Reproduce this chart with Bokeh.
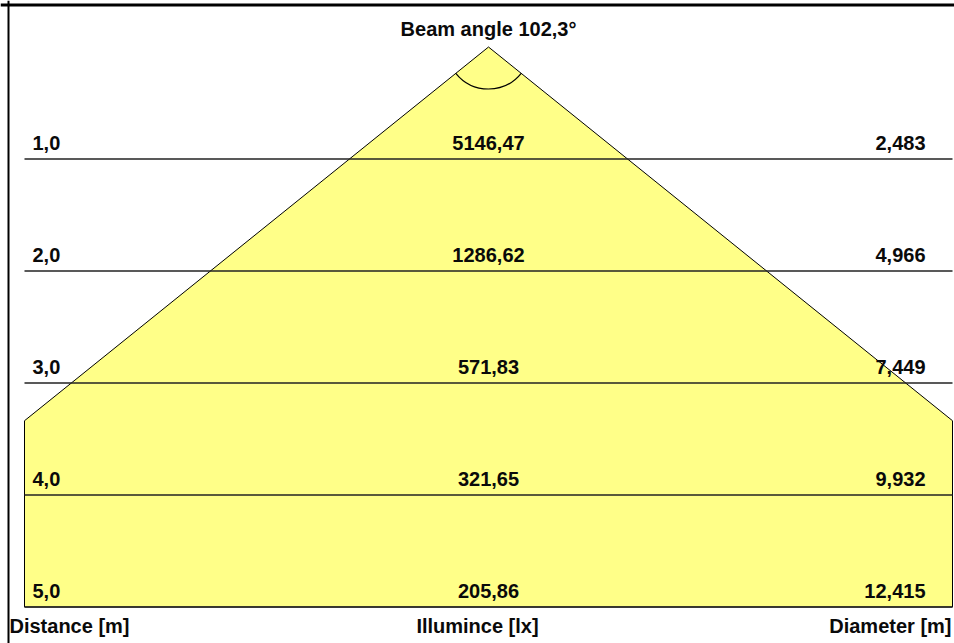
import math
from bokeh.plotting import figure
from bokeh.models import Range1d, Span, ColumnDataSource
from bokeh.core.properties import value
from bokeh.embed import file_html
from bokeh.resources import INLINE

# ---- data ----
distances = [1.0, 2.0, 3.0, 4.0, 5.0]                      # m
illuminance = [5146.47, 1286.62, 571.83, 321.65, 205.86]    # lx
diameters = [2.483, 4.966, 7.449, 9.932, 12.415]            # m
beam_angle = 102.3                                          # degrees
header_labels = ["Distance [m]", "Illumince [lx]", "Diameter [m]"]


def de(v, n):
    return f"{v:.{n}f}".replace(".", ",")


dist_labels = [de(v, 1) for v in distances]
illum_labels = [de(v, 2) for v in illuminance]
diam_labels = [de(v, 3) for v in diameters]
title_label = "Beam angle " + de(beam_angle, 1) + "°"

# ---- layout ----
W, H = 954, 643
PX = 112.0              # pixels per metre
APEX_X, APEX_Y = 488, 46.5
BOX_HALF = 464 / PX
FONT = value("Liberation Sans")
FS = "20px"

x_range = Range1d(-APEX_X / PX, (W - APEX_X) / PX)
y_range = Range1d(-(H - APEX_Y) / PX, APEX_Y / PX)

p = figure(width=W, height=H, x_range=x_range, y_range=y_range,
           output_backend="svg", toolbar_location=None, min_border=0,
           x_axis_location=None, y_axis_location=None)
p.grid.visible = False
p.outline_line_color = None
p.background_fill_color = "white"

half = math.radians(beam_angle / 2)
d_edge = BOX_HALF / math.tan(half)
max_d = max(distances)

p.patch([0, -BOX_HALF, -BOX_HALF, BOX_HALF, BOX_HALF],
        [0, -d_edge, -max_d, -max_d, -d_edge],
        fill_color="#FFFF88", line_color="black", line_width=1)

ys = [-d for d in distances]
src = ColumnDataSource(dict(y=ys, dist=dist_labels, ill=illum_labels, dia=diam_labels,
                            xl=[-BOX_HALF] * len(ys), xr=[BOX_HALF] * len(ys),
                            xc=[0] * len(ys)))

p.segment(x0="xl", x1="xr", y0="y", y1="y", source=src,
          line_color="#222222", line_width=1.4)

p.arc(x=0, y=0, radius=42 / PX, start_angle=-math.pi / 2 - half,
      end_angle=-math.pi / 2 + half, line_color="black", line_width=1.2)

common = dict(text_font=FONT, text_font_size=FS, text_font_style="bold",
              text_color="#0a0a0a", text_baseline="alphabetic")
p.text(x="xl", y="y", text="dist", source=src, text_align="left",
       x_offset=8, y_offset=-16, **common)
p.text(x="xc", y="y", text="ill", source=src, text_align="center",
       y_offset=-16, **common)
p.text(x="xr", y="y", text="dia", source=src, text_align="right",
       x_offset=-27, y_offset=-16, **common)

p.text(x=[0], y=[0], text=[title_label], text_align="center", y_offset=-18, **common)

hy = -max_d
p.text(x=[x_range.start], y=[hy], text=[header_labels[0]], text_align="left",
       x_offset=9, y_offset=19, **common)
p.text(x=[0], y=[hy], text=[header_labels[1]], text_align="center",
       x_offset=-11, y_offset=19, **common)
p.text(x=[BOX_HALF], y=[hy], text=[header_labels[2]], text_align="right",
       x_offset=-1, y_offset=19, **common)

p.add_layout(Span(location=(APEX_Y - 4.5) / PX, dimension="width",
                  line_color="black", line_width=3))
p.add_layout(Span(location=(8 - APEX_X) / PX, dimension="height",
                  line_color="black", line_width=2))

open("out.html", "w").write(file_html(p, INLINE))
